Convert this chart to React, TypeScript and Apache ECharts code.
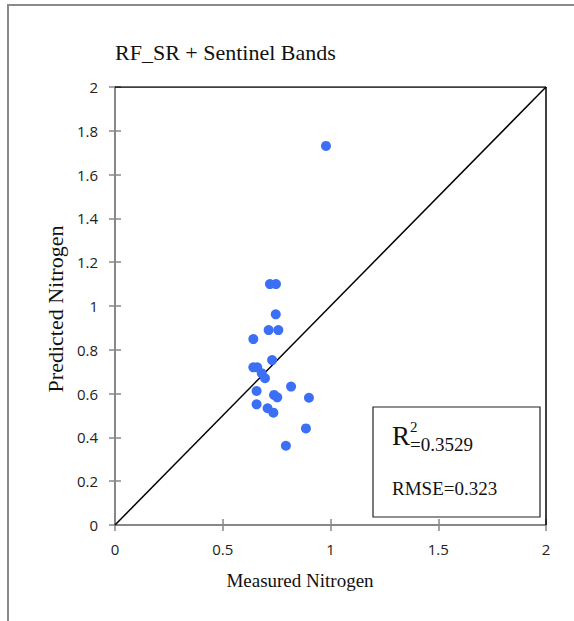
import React, { useEffect, useRef } from "react";
import * as echarts from "echarts";

const measured = [0.719, 0.747, 0.746, 0.713, 0.758, 0.642, 0.729, 0.642, 0.660, 0.681, 0.696, 0.817, 0.657, 0.738, 0.753, 0.900, 0.657, 0.708, 0.735, 0.886, 0.793, 0.979];
const predicted = [1.100, 1.100, 0.962, 0.890, 0.890, 0.849, 0.753, 0.720, 0.720, 0.693, 0.670, 0.632, 0.612, 0.594, 0.583, 0.581, 0.551, 0.533, 0.513, 0.441, 0.362, 1.731];
const oneToOne = [[0, 0], [2, 2]];
const topEdge = [[0, 2], [2, 2]];
const rightEdge = [[2, 0], [2, 2]];
const title = "RF_SR + Sentinel Bands";
const xName = "Measured Nitrogen";
const yName = "Predicted Nitrogen";
const r2Value = "=0.3529";
const rmseText = "RMSE=0.323";

export default function App() {
  const ref = useRef<HTMLDivElement>(null);
  useEffect(() => {
    if (!ref.current) return;
    const chart = echarts.init(ref.current, null, { renderer: "svg" });
    const serif = "Liberation Serif";
    const sans = "Open Sans";
    const axisGray = "#878787";
    const baseAxis = (showLabel: boolean, inside: boolean, pos: string) => ({
      type: "value",
      min: 0,
      max: 2,
      position: pos,
      splitLine: { show: false },
      axisLine: { show: showLabel, lineStyle: { color: axisGray, width: 2 } },
      axisTick: { show: true, inside, length: 6, lineStyle: { color: axisGray, width: 1.5 } },
      axisLabel: { show: showLabel, color: "#222", fontFamily: sans, fontSize: 15 },
    });
    const xA: any = { ...baseAxis(true, false, "bottom"), interval: 0.5 };
    xA.axisLabel = { ...xA.axisLabel, margin: 16 };
    const xB: any = { ...baseAxis(false, true, "bottom"), interval: 0.5 };
    const yA: any = { ...baseAxis(true, false, "left"), interval: 0.2 };
    yA.axisLabel = { ...yA.axisLabel, margin: 17 };
    const yB: any = { ...baseAxis(false, true, "left"), interval: 0.2 };
    const line = (data: number[][], z: number) => ({
      type: "line",
      data,
      showSymbol: false,
      symbol: "none",
      lineStyle: { color: "#000", width: 1.5 },
      silent: true,
      z,
    });
    const txt = (x: number, y: number, text: string, size: number, extra: any = {}) => ({
      type: "text",
      x,
      y,
      z: 11,
      ...extra,
      style: {
        text,
        fontFamily: serif,
        fontSize: size,
        fill: "#111",
        verticalAlign: "middle",
        align: extra.align || "left",
      },
    });
    chart.setOption({
      animation: false,
      grid: { left: 115, right: 28, top: 87, bottom: 96 },
      xAxis: [xA, xB],
      yAxis: [yA, yB],
      series: [
        line(oneToOne, 2),
        line(topEdge, 2),
        line(rightEdge, 2),
        {
          type: "scatter",
          data: measured.map((m, i) => [m, predicted[i]]),
          symbolSize: 10,
          itemStyle: { color: "#3B6FF6", opacity: 1 },
          z: 3,
        },
      ],
      graphic: [
        {
          type: "rect",
          shape: { x: 8, y: 5, width: 800, height: 800 },
          style: { fill: "none", stroke: "#8a8a8a", lineWidth: 2 },
          silent: true,
          z: -10,
        },
        txt(115, 52, title, 22),
        txt(300, 580, xName, 19, { align: "center" }),
        txt(55, 309, yName, 22, { align: "center", rotation: Math.PI / 2 }),
        {
          type: "rect",
          shape: { x: 373, y: 407, width: 167, height: 110 },
          style: { fill: "#fff", stroke: "#222", lineWidth: 1.2 },
          z: 10,
        },
        txt(392, 436, "R", 27),
        txt(410, 427, "2", 15),
        txt(410, 444, r2Value, 19),
        txt(392, 488, rmseText, 19),
      ],
    });
    return () => chart.dispose();
  }, []);
  return (
    <div
      ref={ref}
      style={{ position: "fixed", left: 0, top: 0, width: 574, height: 621, background: "#fff" }}
    />
  );
}
